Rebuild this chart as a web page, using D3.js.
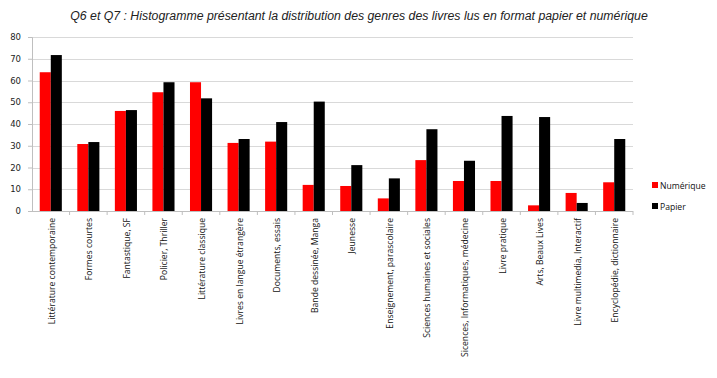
<!DOCTYPE html>
<html>
<head>
<meta charset="utf-8">
<script src="https://cdn.jsdelivr.net/npm/d3@7"></script>
<style>
  body { margin: 0; background: #fff; }
</style>
</head>
<body>
<div id="chart"></div>
<script>
// categories (genres)
let genres = [
    "Littérature contemporaine", "Formes courtes", "Fantastique, SF", "Policier, Thriller",
    "Littérature classique", "Livres en langue étrangère", "Documents, essais",
    "Bande dessinée, Manga", "Jeunesse", "Enseignement, parascolaire",
    "Sciences humaines et sociales", "Sicences, Informatiques, médecine", "Livre pratique",
    "Arts, Beaux Lives", "Livre multimedia, Interactif", "Encyclopédie, dictionnaire"
]

// series
let numerique = [63.8, 30.8, 46, 54.6, 59.2, 31.3, 31.9, 12, 11.5, 5.8, 23.4, 13.8, 13.8, 2.6, 8.3, 13.2]
let papier = [71.7, 31.7, 46.4, 59.2, 51.8, 33.1, 40.9, 50.3, 21.1, 15, 37.6, 23.1, 43.7, 43.2, 3.7, 33.1]

let seriesNames = ["Numérique", "Papier"]
let seriesColors = ["#ff0000", "#000000"]
let yTicks = [0, 10, 20, 30, 40, 50, 60, 70, 80]

let title = "Q6 et Q7 : Histogramme présentant la distribution des genres des livres lus en format papier et numérique"

var W = 717, H = 378
var margin = { top: 37, left: 32, right: 84, bottom: 167 }
var width = W - margin.left - margin.right,
    height = H - margin.top - margin.bottom

var svg = d3.select("#chart").append("svg")
    .attr("width", W)
    .attr("height", H)

svg.append("text")
    .attr("x", 359)
    .attr("y", 20)
    .attr("text-anchor", "middle")
    .style("font-family", "Liberation Sans, Arial, sans-serif")
    .style("font-style", "italic")
    .style("font-size", "12.3px")
    .style("fill", "#222")
    .text(title)

var g = svg.append("g")
    .attr("transform", "translate(" + margin.left + "," + margin.top + ")")

var x = d3.scaleBand()
    .domain(genres)
    .range([0, width])
    .paddingInner(0)

var x1 = d3.scaleBand()
    .domain(seriesNames)
    .range([0, x.bandwidth()])
    .paddingInner(0)
    .paddingOuter(0.7)

var y = d3.scaleLinear()
    .domain([0, 80])
    .range([height, 0])

// gridlines
g.append("g")
    .selectAll("line")
    .data(yTicks.slice(1))
    .enter()
    .append("line")
    .attr("x1", 0)
    .attr("x2", width)
    .attr("y1", d => Math.round(y(d)) + 0.5)
    .attr("y2", d => Math.round(y(d)) + 0.5)
    .attr("stroke", "#d9d9d9")
    .attr("stroke-width", 1)

// y axis
var yAxis = g.append("g")
    .call(d3.axisLeft(y).tickValues(yTicks).tickSize(4).tickPadding(7))
yAxis.select(".domain").attr("stroke", "#bfbfbf")
yAxis.selectAll(".tick line").attr("stroke", "#bfbfbf")
yAxis.selectAll("text")
    .style("font-family", "DejaVu Sans, sans-serif")
    .style("font-size", "8.5px")
    .style("fill", "#222")

// bars
var groups = g.selectAll(".grp")
    .data(genres)
    .enter()
    .append("g")
    .attr("transform", d => "translate(" + x(d) + ",0)")

groups.selectAll("rect")
    .data((d, i) => [
        { s: seriesNames[0], v: numerique[i], c: seriesColors[0] },
        { s: seriesNames[1], v: papier[i], c: seriesColors[1] }
    ])
    .enter()
    .append("rect")
    .attr("x", d => x1(d.s))
    .attr("y", d => y(d.v))
    .attr("width", x1.bandwidth())
    .attr("height", d => height - y(d.v))
    .attr("fill", d => d.c)

// x axis
var xAxisG = g.append("g")
    .attr("transform", "translate(0," + height + ")")
xAxisG.append("line")
    .attr("x1", 0).attr("x2", width)
    .attr("y1", 0.5).attr("y2", 0.5)
    .attr("stroke", "#bfbfbf")
xAxisG.selectAll(".sep")
    .data(genres)
    .enter()
    .append("line")
    .attr("x1", d => x(d) + x.bandwidth())
    .attr("x2", d => x(d) + x.bandwidth())
    .attr("y1", 0)
    .attr("y2", 4)
    .attr("stroke", "#bfbfbf")

xAxisG.selectAll(".lbl")
    .data(genres)
    .enter()
    .append("text")
    .attr("transform", d => "translate(" + (x(d) + x.bandwidth() / 2 + 4) + ",7)rotate(-90)")
    .attr("text-anchor", "end")
    .style("font-family", "Open Sans, sans-serif")
    .style("font-size", "8.6px")
    .style("fill", "#111")
    .text(d => d)

// legend
var legend = svg.append("g")
    .attr("transform", "translate(652,182)")
legend.selectAll("rect")
    .data(seriesNames)
    .enter()
    .append("rect")
    .attr("x", 0)
    .attr("y", (d, i) => i * 21)
    .attr("width", 6)
    .attr("height", 6)
    .attr("fill", (d, i) => seriesColors[i])
legend.selectAll("text")
    .data(seriesNames)
    .enter()
    .append("text")
    .attr("x", 8)
    .attr("y", (d, i) => i * 21 + 6.5)
    .style("font-family", "Open Sans, sans-serif")
    .style("font-size", "8.6px")
    .style("fill", "#111")
    .text(d => d)
</script>
</body>
</html>
